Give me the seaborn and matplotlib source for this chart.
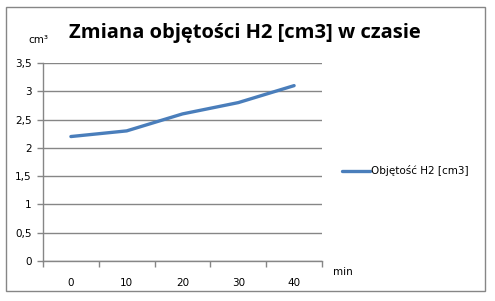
import matplotlib
matplotlib.use("Agg")
import matplotlib.pyplot as plt
import seaborn as sns
import numpy as np
import pandas as pd
from matplotlib.patches import Rectangle
from matplotlib.ticker import FixedLocator

sns.set_style("white")
plt.rcParams['font.family'] = ['DejaVu Sans']
plt.rcParams['text.color'] = 'black'
plt.rcParams['xtick.color'] = 'black'
plt.rcParams['ytick.color'] = 'black'

czas = ["0", "10", "20", "30", "40"]
objetosc = [2.2, 2.3, 2.6, 2.8, 3.1]
y_ticks = [0, 0.5, 1, 1.5, 2, 2.5, 3, 3.5]
y_labels = ["0", "0,5", "1", "1,5", "2", "2,5", "3", "3,5"]
series_name = "Objętość H2 [cm3]"

df = pd.DataFrame({"pos": np.arange(len(czas)), "val": objetosc})

fig = plt.figure(figsize=(4.95, 3.01), dpi=100)
W, H = 495, 301
ax = fig.add_axes([43 / W, 1 - 261 / H, (322 - 43) / W, (261 - 63) / H])

sns.lineplot(data=df, x="pos", y="val", ax=ax, color="#4a7ebb", linewidth=2.4,
             label=series_name, legend=False)

ax.set_xlim(-0.5, len(czas) - 0.5)
ax.set_ylim(0, 3.5)
ax.set_yticks(y_ticks)
ax.set_yticklabels(y_labels)
ax.yaxis.grid(True, color="#868686", linewidth=1)
ax.xaxis.grid(False)
ax.xaxis.set_major_locator(FixedLocator(np.arange(-0.5, len(czas), 1.0)))
ax.set_xticklabels([""] * (len(czas) + 1))
ax.xaxis.set_minor_locator(FixedLocator(np.arange(len(czas))))
ax.set_xticklabels(czas, minor=True)
ax.tick_params(axis="x", which="major", length=4, width=1, color="#868686", direction="out", bottom=True)
ax.tick_params(axis="x", which="minor", length=0, pad=12, labelsize=7.5, labelcolor="black")
ax.tick_params(axis="y", length=4, width=1, color="#868686", direction="out", left=True, labelsize=7.5, pad=4,
               labelcolor="black")
for s in ["top", "right"]:
    ax.spines[s].set_visible(False)
for s in ["left", "bottom"]:
    ax.spines[s].set_color("#868686")
    ax.spines[s].set_linewidth(1)
ax.set_xlabel("")
ax.set_ylabel("")

fig.text(38 / W, 1 - 40 / H, "cm³", fontsize=7.5, ha="center", va="center", color="black")
fig.text(343 / W, 1 - 272 / H, "min", fontsize=7.5, ha="center", va="center", color="black")
fig.text(245 / W, 1 - 33 / H, "Zmiana objętości H2 [cm3] w czasie", fontsize=14.5,
         fontweight="bold", family=["Open Sans", "DejaVu Sans"], ha="center", va="center", color="black")

# legend
fig.add_artist(plt.Line2D([342 / W, 370 / W], [1 - 171 / H, 1 - 171 / H], color="#4a7ebb", linewidth=2.4))
fig.text(371 / W, 1 - 171 / H, series_name, fontsize=7.5, ha="left", va="center", color="black")

fig.add_artist(Rectangle((6 / W, 1 - 291 / H), (485 - 6) / W, (291 - 7) / H, transform=fig.transFigure,
                         fill=False, edgecolor="#868686", linewidth=1))

fig.savefig("out.png", dpi=100)
